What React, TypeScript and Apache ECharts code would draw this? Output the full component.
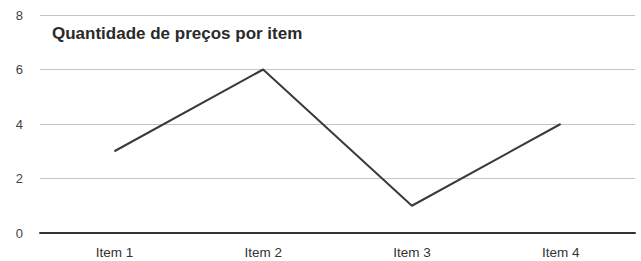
import React, { useEffect, useRef } from "react";
import * as echarts from "echarts";

const categories = ["Item 1", "Item 2", "Item 3", "Item 4"];
const values = [3, 6, 1, 4];
const titleText = "Quantidade de preços por item";

export default function App() {
  const ref = useRef<HTMLDivElement>(null);
  useEffect(() => {
    if (!ref.current) return;
    const chart = echarts.init(ref.current, null, { renderer: "svg" });
    chart.setOption({
      animation: false,
      backgroundColor: "#ffffff",
      textStyle: { fontFamily: "Liberation Sans, Arial, sans-serif" },
      title: {
        text: titleText,
        left: 47,
        top: 20,
        textStyle: { fontSize: 17, fontWeight: "bold", color: "#2a2a2a", fontFamily: "Liberation Sans, Arial, sans-serif" },
      },
      grid: { left: 40, right: 6, top: 15, bottom: 28 },
      xAxis: {
        type: "category",
        data: categories,
        boundaryGap: true,
        axisLine: { show: true, lineStyle: { color: "#333", width: 2 } },
        axisTick: { show: false },
        axisLabel: { color: "#333", fontSize: 13.5, margin: 12 },
      },
      yAxis: {
        type: "value",
        min: 0,
        max: 8,
        interval: 2,
        axisLine: { show: false },
        axisTick: { show: false },
        axisLabel: { color: "#444", fontSize: 13, margin: 17 },
        splitLine: { lineStyle: { color: "#c4c4c4", width: 1 } },
      },
      series: [
        {
          type: "line",
          data: values,
          symbol: "none",
          lineStyle: { color: "#3a3a3a", width: 2 },
        },
      ],
    });
    return () => chart.dispose();
  }, []);
  return <div ref={ref} style={{ position: "fixed", left: 0, top: 0, width: 641, height: 261 }} />;
}
